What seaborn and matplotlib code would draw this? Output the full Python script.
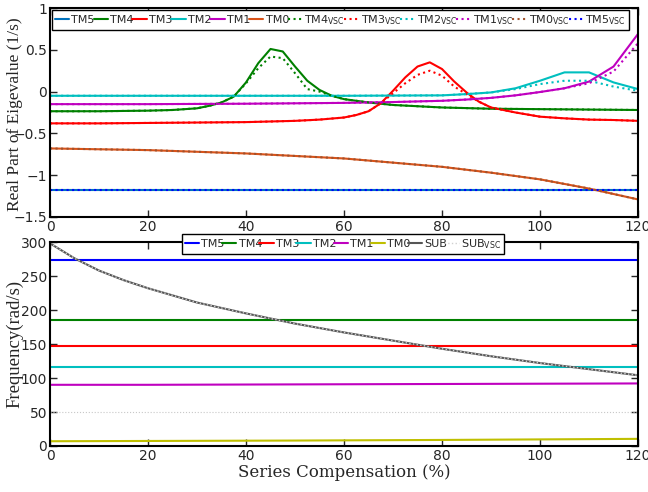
import matplotlib
matplotlib.use("Agg")
import matplotlib.pyplot as plt
import seaborn as sns

# ---- top panel: real part of eigenvalues (1/s) ----
x_c = [0, 10, 20, 30, 40, 50, 60, 70, 80, 90, 100, 110, 120]
tm5_re = [-1.18, -1.18, -1.18, -1.18, -1.18, -1.18, -1.18, -1.18, -1.18, -1.18, -1.18, -1.18, -1.18]
tm0_re = [-0.68, -0.69, -0.70, -0.72, -0.74, -0.77, -0.80, -0.85, -0.90, -0.97, -1.05, -1.16, -1.29]
tm5_re_vsc = [-1.18, -1.18, -1.18, -1.18, -1.18, -1.18, -1.18, -1.18, -1.18, -1.18, -1.18, -1.18, -1.18]
tm0_re_vsc = [-0.68, -0.69, -0.70, -0.72, -0.74, -0.77, -0.80, -0.85, -0.90, -0.97, -1.05, -1.16, -1.29]

x_tm4 = [0, 10, 20, 25, 30, 32.5, 35, 37.5, 40, 42.5, 45, 47.5, 50, 52.5, 55, 57.5, 60, 65, 70, 80, 90, 100, 110, 120]
tm4_re = [-0.235, -0.235, -0.228, -0.22, -0.20, -0.17, -0.13, -0.06, 0.11, 0.34, 0.51, 0.48, 0.30, 0.13, 0.02,
          -0.05, -0.09, -0.13, -0.16, -0.19, -0.205, -0.21, -0.215, -0.22]
tm4_re_vsc = [-0.235, -0.235, -0.228, -0.22, -0.20, -0.17, -0.13, -0.06, 0.10, 0.28, 0.42, 0.40, 0.22, 0.03, 0.0,
              -0.05, -0.09, -0.13, -0.16, -0.19, -0.205, -0.21, -0.215, -0.22]

x_tm3 = [0, 10, 20, 30, 40, 50, 55, 60, 62.5, 65, 67.5, 70, 72.5, 75, 77.5, 80, 82.5, 85, 87.5, 90, 95, 100, 105, 110, 115, 120]
tm3_re = [-0.38, -0.38, -0.375, -0.37, -0.365, -0.35, -0.335, -0.31, -0.28, -0.235, -0.14, 0.01, 0.17, 0.30, 0.35,
          0.27, 0.12, -0.01, -0.12, -0.19, -0.25, -0.30, -0.32, -0.335, -0.34, -0.35]
tm3_re_vsc = [-0.38, -0.38, -0.375, -0.37, -0.365, -0.35, -0.335, -0.31, -0.28, -0.235, -0.14, -0.02, 0.10, 0.20, 0.25,
              0.19, 0.06, -0.03, -0.12, -0.19, -0.25, -0.30, -0.32, -0.335, -0.34, -0.35]

x_tm2 = [0, 20, 40, 60, 80, 85, 90, 95, 100, 105, 110, 115, 120]
tm2_re = [-0.05, -0.05, -0.05, -0.05, -0.045, -0.03, -0.01, 0.04, 0.13, 0.23, 0.23, 0.11, 0.03]
tm2_re_vsc = [-0.05, -0.05, -0.05, -0.05, -0.045, -0.03, -0.01, 0.03, 0.09, 0.13, 0.13, 0.06, 0.01]

x_tm1 = [0, 20, 40, 60, 70, 80, 85, 90, 95, 100, 105, 110, 115, 120]
tm1_re = [-0.15, -0.15, -0.145, -0.135, -0.125, -0.11, -0.095, -0.075, -0.045, -0.005, 0.04, 0.12, 0.30, 0.69]
tm1_re_vsc = [-0.15, -0.15, -0.145, -0.135, -0.125, -0.11, -0.095, -0.075, -0.045, -0.005, 0.04, 0.10, 0.24, 0.58]

# ---- bottom panel: frequency (rad/s) ----
tm5_f = [274, 274, 274, 274, 274, 274, 274, 274, 274, 274, 274, 274, 274]
tm4_f = [186, 186, 186, 186, 186, 186, 186, 186, 186, 186, 186, 186, 186]
tm3_f = [147, 147, 147, 147, 147, 147, 147, 147, 147, 147, 147, 147, 147]
tm2_f = [116, 116, 116, 116, 116, 116, 116, 116, 116, 116, 116, 116, 116]
tm1_f = [90, 90, 90, 90.2, 90.4, 90.6, 90.8, 91, 91.2, 91.4, 91.6, 91.8, 92]
tm0_f = [7, 7.2, 7.4, 7.6, 7.8, 8, 8.3, 8.6, 8.9, 9.3, 9.7, 10.1, 10.5]
ref_f = [50, 50, 50, 50, 50, 50, 50, 50, 50, 50, 50, 50, 50]
x_sub = [0, 2.5, 5, 10, 15, 20, 30, 40, 50, 60, 70, 80, 90, 100, 110, 120]
sub_f = [298, 287, 276, 258, 244, 232, 211, 195, 180, 167, 155, 143, 132, 122, 113, 104]
sub_f_vsc = [298, 287, 276, 258, 244, 232, 211, 195, 180, 167, 155, 143, 132, 122, 113, 104]

sns.set_style("ticks")
plt.rcParams['font.family'] = ['DejaVu Sans']

fig = plt.figure(figsize=(6.48, 4.92), dpi=100)
ax1 = fig.add_axes([0.0772, 0.559, 0.9074, 0.4247])
ax2 = fig.add_axes([0.0772, 0.0935, 0.9074, 0.4146])

V = '$_{\\mathrm{VSC}}$'
lw = 1.5
sns.lineplot(x=x_c, y=tm5_re, ax=ax1, color='#0072BD', lw=lw, label='TM5')
sns.lineplot(x=x_tm4, y=tm4_re, ax=ax1, color='#008000', lw=lw, label='TM4')
sns.lineplot(x=x_tm3, y=tm3_re, ax=ax1, color='#FF0000', lw=lw, label='TM3')
sns.lineplot(x=x_tm2, y=tm2_re, ax=ax1, color='#00BFBF', lw=lw, label='TM2')
sns.lineplot(x=x_tm1, y=tm1_re, ax=ax1, color='#BF00BF', lw=lw, label='TM1')
sns.lineplot(x=x_c, y=tm0_re, ax=ax1, color='#D95319', lw=lw, label='TM0')
sns.lineplot(x=x_tm4, y=tm4_re_vsc, ax=ax1, color='#008000', lw=lw, ls=':', label='TM4' + V)
sns.lineplot(x=x_tm3, y=tm3_re_vsc, ax=ax1, color='#FF0000', lw=lw, ls=':', label='TM3' + V)
sns.lineplot(x=x_tm2, y=tm2_re_vsc, ax=ax1, color='#00BFBF', lw=lw, ls=':', label='TM2' + V)
sns.lineplot(x=x_tm1, y=tm1_re_vsc, ax=ax1, color='#BF00BF', lw=lw, ls=':', label='TM1' + V)
sns.lineplot(x=x_c, y=tm0_re_vsc, ax=ax1, color='#A0522D', lw=lw, ls=':', label='TM0' + V)
sns.lineplot(x=x_c, y=tm5_re_vsc, ax=ax1, color='#0000FF', lw=lw, ls=':', label='TM5' + V)

sns.lineplot(x=x_c, y=tm5_f, ax=ax2, color='#0000FF', lw=lw, label='TM5')
sns.lineplot(x=x_c, y=tm4_f, ax=ax2, color='#008000', lw=lw, label='TM4')
sns.lineplot(x=x_c, y=tm3_f, ax=ax2, color='#FF0000', lw=lw, label='TM3')
sns.lineplot(x=x_c, y=tm2_f, ax=ax2, color='#00BFBF', lw=lw, label='TM2')
sns.lineplot(x=x_c, y=tm1_f, ax=ax2, color='#BF00BF', lw=lw, label='TM1')
sns.lineplot(x=x_c, y=tm0_f, ax=ax2, color='#BFBF00', lw=lw, label='TM0')
sns.lineplot(x=x_sub, y=sub_f, ax=ax2, color='#555555', lw=lw, label='SUB')
sns.lineplot(x=x_sub, y=sub_f_vsc, ax=ax2, color='#D0D0D0', lw=1.0, ls=':', label='SUB' + V)
sns.lineplot(x=x_c, y=ref_f, ax=ax2, color='#C8C8C8', lw=0.8, ls=':')

ax1.set_xlim(0, 120)
ax1.set_ylim(-1.5, 1)
ax1.set_yticks([-1.5, -1, -0.5, 0, 0.5, 1])
ax1.set_yticklabels(['\u22121.5', '\u22121', '\u22120.5', '0', '0.5', '1'])
ax2.set_xlim(0, 120)
ax2.set_ylim(0, 300)
ax2.set_yticks([0, 50, 100, 150, 200, 250, 300])
for ax in (ax1, ax2):
    ax.set_xticks([0, 20, 40, 60, 80, 100, 120])
    ax.tick_params(direction='in', length=5, width=1, labelsize=10, top=True, right=True, pad=2)
    for s in ax.spines.values():
        s.set_linewidth(1.5)
        s.set_color('black')

serif = 'Liberation Serif'
ax1.set_xlabel('')
ax1.set_ylabel('Real Part of Eigevalue (1/s)', family=serif, fontsize=12.5)
ax2.set_ylabel('Frequency(rad/s)', family=serif, fontsize=13.5)
ax2.set_xlabel('Series Compensation (%)', family='DejaVu Serif', fontsize=12, labelpad=1)
ax1.yaxis.set_label_coords(-0.046, 0.49)
ax2.yaxis.set_label_coords(-0.046, 0.5)

leg1 = ax1.legend(ncol=12, loc='center', bbox_to_anchor=(0.0034, 0.9426 - 0.04, 0.981, 0.08), mode='expand',
                  fontsize=8, handlelength=1.3, handletextpad=0.2, columnspacing=0.2, borderpad=0.25,
                  borderaxespad=0, fancybox=False, framealpha=1, edgecolor='black')
leg1.get_frame().set_linewidth(1.0)
leg2 = ax2.legend(ncol=8, loc='center', bbox_to_anchor=(0.2245, 0.99 - 0.04, 0.5476, 0.08), mode='expand',
                  fontsize=8, handlelength=1.3, handletextpad=0.2, columnspacing=0.2, borderpad=0.25,
                  borderaxespad=0, fancybox=False, framealpha=1, edgecolor='black')
leg2.get_frame().set_linewidth(1.0)
leg2.set_zorder(10)
ax2.set_zorder(5)

fig.savefig('out.png', dpi=100)
